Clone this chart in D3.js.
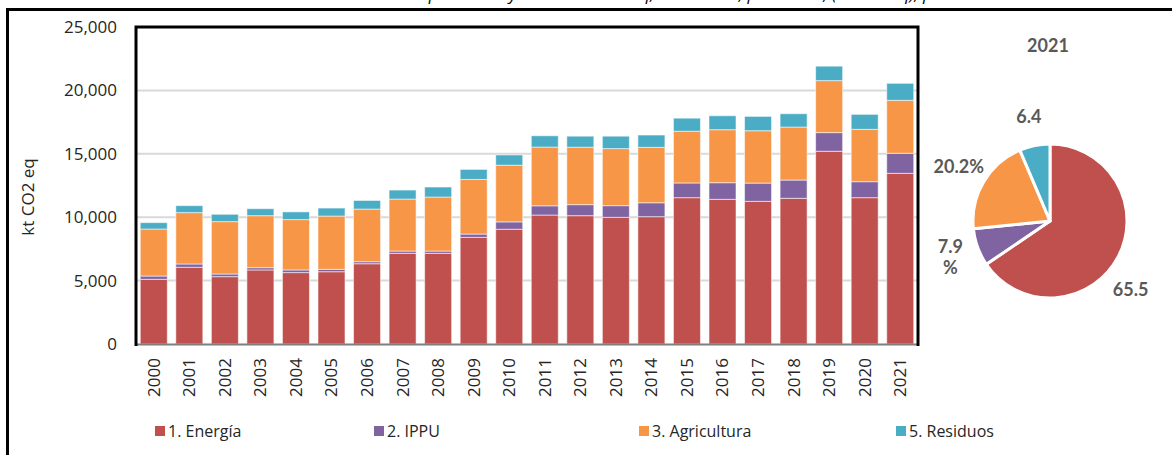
<!DOCTYPE html>
<html>
<head>
<meta charset="utf-8">
<script src="https://cdn.jsdelivr.net/npm/d3@7"></script>
<style>
  body { margin: 0; background: #fff; }
  text { font-family: "Open Sans", "Noto Sans", sans-serif; }
</style>
</head>
<body>
<div id="my_dataviz"></div>
<script>
var years = ["2000","2001","2002","2003","2004","2005","2006","2007","2008","2009","2010",
             "2011","2012","2013","2014","2015","2016","2017","2018","2019","2020","2021"];
var energia = [5100,6050,5310,5840,5630,5700,6330,7150,7150,8410,9050,
               10170,10120,9990,10040,11540,11410,11250,11490,15200,11540,13460];
var ippu = [260,260,210,180,210,190,160,180,180,260,580,
            730,870,920,1100,1160,1310,1440,1440,1470,1260,1580];
var agricultura = [3710,4050,4130,4100,3970,4200,4150,4100,4260,4310,4470,
                   4630,4530,4500,4370,4080,4180,4130,4180,4100,4130,4180];
var residuos = [500,550,580,550,610,630,680,710,790,790,810,
                890,870,980,970,1030,1100,1130,1050,1140,1180,1340];
var seriesNames = ["1. Energía", "2. IPPU", "3. Agricultura", "5. Residuos"];
var colors = ["#C0504D", "#8064A2", "#F79646", "#4BACC6"];
var yTicks = [0, 5000, 10000, 15000, 20000, 25000];

var pieYear = "2021";
var pieValues = [65.5, 7.9, 20.2, 6.4];
var pieLabels = ["65.5", "7.9\n%", "20.2%", "6.4"];

var W = 1172, H = 455;
var margin = {top: 27, right: 254, bottom: 111, left: 136};
var width = W - margin.left - margin.right;
var height = H - margin.top - margin.bottom;

var root = d3.select("#my_dataviz")
  .append("svg")
    .attr("width", W)
    .attr("height", H);

// caption, cut off by the top of the picture
root.append("text")
  .attr("x", 640)
  .attr("y", 0)
  .attr("text-anchor", "middle")
  .style("font-style", "italic")
  .style("font-size", "17px")
  .attr("fill", "#000")
  .text("Emisiones de GEI por sector y año en kt CO2 eq, 2000-2021, por sector, (kt CO2 eq), por año");

// outer frame (top + left)
root.append("path")
  .attr("d", "M7.5,455 V9.5 H1172")
  .attr("fill", "none")
  .attr("stroke", "#000")
  .attr("stroke-width", 3);

var svg = root.append("g")
  .attr("transform", "translate(" + margin.left + "," + margin.top + ")");

var x = d3.scaleBand()
  .domain(years)
  .range([0, width])
  .paddingInner(0.24)
  .paddingOuter(0.12);

var y = d3.scaleLinear()
  .domain([0, 25000])
  .range([height, 0]);

// gridlines
svg.append("g")
  .selectAll("line")
  .data(yTicks.slice(1, -1))
  .enter()
  .append("line")
    .attr("x1", 0)
    .attr("x2", width)
    .attr("y1", function(d) { return y(d) })
    .attr("y2", function(d) { return y(d) })
    .attr("stroke", "#d9d9d9")
    .attr("stroke-width", 2);

// y axis labels
var yAxis = svg.append("g")
  .attr("transform", "translate(-16,0)")
  .call(d3.axisLeft(y).tickValues(yTicks).tickFormat(d3.format(",d")).tickSize(0));
yAxis.select(".domain").remove();
yAxis.selectAll("text")
  .style("font-size", "17px")
  .attr("fill", "#262626");

svg.append("text")
  .attr("transform", "rotate(-90)")
  .attr("x", -170)
  .attr("y", -margin.left + 34)
  .style("text-anchor", "middle")
  .style("font-size", "17px")
  .attr("fill", "#262626")
  .text("kt CO2 eq");

// stacked bars
var table = years.map(function(yr, i) {
  return { year: yr, e: energia[i], p: ippu[i], a: agricultura[i], r: residuos[i] };
});
var stack = d3.stack().keys(["e", "p", "a", "r"])(table);

svg.append("g")
  .selectAll("g")
  .data(stack)
  .enter()
  .append("g")
    .attr("fill", function(d, i) { return colors[i] })
  .selectAll("rect")
  .data(function(d) { return d })
  .enter()
  .append("rect")
    .attr("x", function(d) { return x(d.data.year) })
    .attr("y", function(d) { return y(d[1]) })
    .attr("width", x.bandwidth())
    .attr("height", function(d) { return y(d[0]) - y(d[1]) })
    .attr("stroke", "#fff")
    .attr("stroke-opacity", 0.55)
    .attr("stroke-width", 1);

// x axis
svg.append("line")
  .attr("x1", 0).attr("x2", width)
  .attr("y1", height + 0.5).attr("y2", height + 0.5)
  .attr("stroke", "#7f7f7f")
  .attr("stroke-width", 2);

svg.append("g")
  .selectAll("text")
  .data(years)
  .enter()
  .append("text")
    .attr("transform", function(d) {
      return "translate(" + (x(d) + x.bandwidth() / 2) + "," + (height + 14) + ") rotate(-90)";
    })
    .attr("dy", "0.35em")
    .style("text-anchor", "end")
    .style("font-size", "17px")
    .attr("fill", "#262626")
    .text(function(d) { return d });

// plot frame (top, left, right)
svg.append("path")
  .attr("d", "M0," + (height + 2) + " V0 H" + width + " V" + (height + 2))
  .attr("fill", "none")
  .attr("stroke", "#000")
  .attr("stroke-width", 3);

// legend
var legendX = [155, 374, 639, 896];
var legend = root.append("g")
  .selectAll("g")
  .data(seriesNames)
  .enter()
  .append("g")
    .attr("transform", function(d, i) { return "translate(" + legendX[i] + ",426)" });
legend.append("rect")
  .attr("width", 10)
  .attr("height", 10)
  .attr("fill", function(d, i) { return colors[i] });
legend.append("text")
  .attr("x", 13)
  .attr("y", 11)
  .style("font-size", "16px")
  .attr("fill", "#262626")
  .text(function(d) { return d });

// pie
var cx = 1050, cy = 221, r = 77;
var pieG = root.append("g").attr("transform", "translate(" + cx + "," + cy + ")");
var arcs = d3.pie().sort(null)(pieValues);
var arc = d3.arc().innerRadius(0).outerRadius(r);

pieG.selectAll("path")
  .data(arcs)
  .enter()
  .append("path")
    .attr("d", arc)
    .attr("fill", function(d, i) { return colors[i] })
    .attr("stroke", "#fff")
    .attr("stroke-width", 3)
    .attr("stroke-linejoin", "round");

// labels placed just outside each slice; the big slice's label sits a bit further round
function labelPos(d) {
  var a = (d.startAngle + d.endAngle) / 2;
  if (d.endAngle - d.startAngle > Math.PI) a += 0.22;
  var rr = 106;
  return [Math.sin(a) * rr, -Math.cos(a) * rr];
}

var pieText = pieG.selectAll("text.lbl")
  .data(arcs)
  .enter()
  .append("text")
    .attr("class", "lbl")
    .attr("transform", function(d) { return "translate(" + labelPos(d) + ")" })
    .style("text-anchor", "middle")
    .style("font-family", "Lato, sans-serif")
    .style("font-weight", "bold")
    .style("font-size", "18px")
    .attr("fill", "#595959");
pieText.each(function(d, i) {
  var lines = pieLabels[i].split("\n");
  var t = d3.select(this);
  lines.forEach(function(l, k) {
    t.append("tspan")
      .attr("x", 0)
      .attr("dy", k === 0 ? (0.35 - (lines.length - 1) * 0.6) + "em" : "1.2em")
      .text(l);
  });
});

root.append("text")
  .attr("x", cx - 2)
  .attr("y", 52)
  .style("text-anchor", "middle")
  .style("font-family", "Lato, sans-serif")
  .style("font-weight", "bold")
  .style("font-size", "18px")
  .attr("fill", "#595959")
  .text(pieYear);
</script>
</body>
</html>
